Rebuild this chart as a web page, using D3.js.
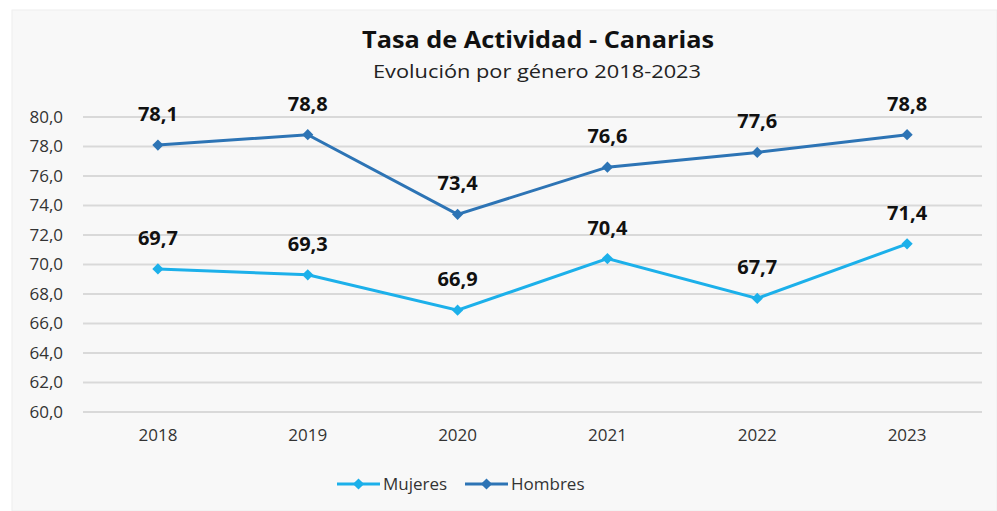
<!DOCTYPE html>
<html>
<head>
<meta charset="utf-8">
<script src="https://cdn.jsdelivr.net/npm/d3@7"></script>
<style>
  body { margin: 0; background: #fff; }
  svg text { font-family: "Open Sans", "Noto Sans", sans-serif; }
</style>
</head>
<body>
<svg id="chart" width="997" height="511"></svg>
<script>
var years = ["2018", "2019", "2020", "2021", "2022", "2023"];
var mujeres = [69.7, 69.3, 66.9, 70.4, 67.7, 71.4];
var hombres = [78.1, 78.8, 73.4, 76.6, 77.6, 78.8];
var yTicks = [60, 62, 64, 66, 68, 70, 72, 74, 76, 78, 80];

var series = [
  {name: "Mujeres", values: mujeres, color: "#1cb0ea"},
  {name: "Hombres", values: hombres, color: "#2d74b5"}
];

var svg = d3.select("#chart");
var fmt = function(v) { return d3.format(".1f")(v).replace(".", ","); };

// panel background
svg.append("rect").attr("x", 12).attr("y", 10).attr("width", 985).attr("height", 501)
  .attr("fill", "#f8f8f8").attr("stroke", "#eeeeee");

svg.append("text").attr("x", 538).attr("y", 48).attr("text-anchor", "middle")
  .attr("font-size", 24).attr("font-weight", "bold").attr("fill", "#111")
  .attr("textLength", 352).attr("lengthAdjust", "spacingAndGlyphs")
  .text("Tasa de Actividad - Canarias");
svg.append("text").attr("x", 537).attr("y", 78).attr("text-anchor", "middle")
  .attr("font-size", 19).attr("fill", "#222")
  .attr("textLength", 328).attr("lengthAdjust", "spacingAndGlyphs")
  .text("Evolución por género 2018-2023");

var x = d3.scaleBand().domain(years).range([83, 982]);
var y = d3.scaleLinear().domain([60, 80]).range([412, 117]);

// gridlines
svg.append("g").selectAll("line").data(yTicks).join("line")
  .attr("x1", 83).attr("x2", 982)
  .attr("y1", function(d) { return y(d); }).attr("y2", function(d) { return y(d); })
  .attr("stroke", "#d9d9d9").attr("stroke-width", 2);

var yAxis = svg.append("g").attr("transform", "translate(69,0)")
  .call(d3.axisLeft(y).tickValues(yTicks).tickFormat(fmt).tickSize(0).tickPadding(6));
yAxis.select(".domain").remove();
yAxis.selectAll("text").attr("font-size", 17).attr("fill", "#333");

var xAxis = svg.append("g").attr("transform", "translate(0,423)")
  .call(d3.axisBottom(x).tickSize(0).tickPadding(6));
xAxis.select(".domain").remove();
xAxis.selectAll("text").attr("font-size", 17).attr("fill", "#333");

var line = d3.line()
  .x(function(d, i) { return x(years[i]) + x.bandwidth() / 2; })
  .y(function(d) { return y(d); });
var diamond = d3.symbol().type(d3.symbolDiamond2).size(80);

series.forEach(function(s) {
  var g = svg.append("g");
  g.append("path").datum(s.values).attr("d", line)
    .attr("fill", "none").attr("stroke", s.color).attr("stroke-width", 3);
  g.selectAll("path.m").data(s.values).join("path").attr("class", "m")
    .attr("d", diamond).attr("fill", s.color)
    .attr("transform", function(d, i) {
      return "translate(" + (x(years[i]) + x.bandwidth() / 2) + "," + y(d) + ")";
    });
  g.selectAll("text").data(s.values).join("text")
    .attr("x", function(d, i) { return x(years[i]) + x.bandwidth() / 2; })
    .attr("y", function(d) { return y(d) - 24; })
    .attr("text-anchor", "middle").attr("font-size", 20).attr("font-weight", "bold")
    .attr("fill", "#111").text(fmt);
});

// legend
var legend = svg.append("g").attr("transform", "translate(337,484)");
var lx = [0, 128];
series.forEach(function(s, i) {
  var lg = legend.append("g").attr("transform", "translate(" + lx[i] + ",0)");
  lg.append("line").attr("x1", 0).attr("x2", 43).attr("stroke", s.color).attr("stroke-width", 3);
  lg.append("path").attr("d", diamond).attr("fill", s.color).attr("transform", "translate(21.5,0)");
  lg.append("text").attr("x", 46).attr("y", 6).attr("font-size", 17).attr("fill", "#333").text(s.name);
});
</script>
</body>
</html>
